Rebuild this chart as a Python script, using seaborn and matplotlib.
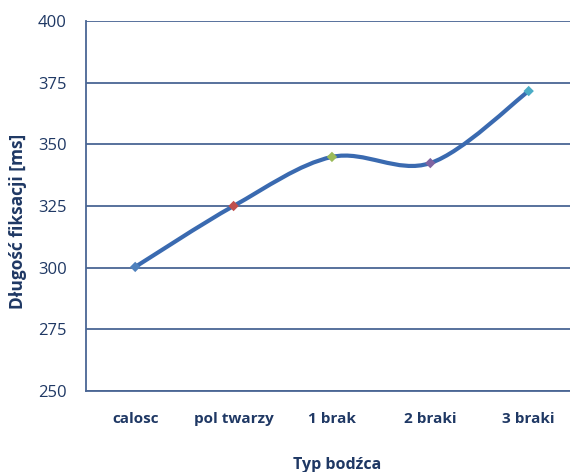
import numpy as np
import matplotlib
matplotlib.use("Agg")
import matplotlib.pyplot as plt
from matplotlib.path import Path
from matplotlib.patches import PathPatch
import seaborn as sns

# data
categories = ["calosc", "pol twarzy", "1 brak", "2 braki", "3 braki"]
fixation_ms = [300.3, 325.0, 344.9, 342.4, 371.6]
point_colors = ["#4F81BD", "#C0504D", "#9BBB59", "#8064A2", "#4BACC6"]
y_ticks = [250, 275, 300, 325, 350, 375, 400]

sns.set_style("white")
plt.rcParams["font.family"] = ["Open Sans", "DejaVu Sans"]

navy = "#1F3864"
grid_col = "#4A6694"
line_col = "#3A6AB0"

fig = plt.figure(figsize=(5.7, 4.72), dpi=100)
ax = fig.add_axes([0.1509, 0.1716, 0.8491, 0.7839])

xs = np.arange(len(categories), dtype=float)
ys = np.array(fixation_ms)

# smoothed line like the spreadsheet one: bezier segments through the points
pts = np.column_stack([xs, ys])
ext = np.vstack([pts[0], pts, pts[-1]])
verts = [pts[0]]
codes = [Path.MOVETO]
for i in range(len(pts) - 1):
    p0, p1, p2, p3 = ext[i], ext[i + 1], ext[i + 2], ext[i + 3]
    c1 = p1 + (p2 - p0) / 6.0
    c2 = p2 - (p3 - p1) / 6.0
    verts += [c1, c2, p2]
    codes += [Path.CURVE4] * 3
ax.add_patch(PathPatch(Path(verts, codes), facecolor="none", edgecolor=line_col,
                       lw=3, capstyle="round", zorder=3))

sns.scatterplot(x=xs, y=ys, hue=categories, palette=point_colors, marker="D",
                s=28, edgecolor="none", legend=False, ax=ax, zorder=4)

ax.set_xlim(-0.5, 4.42)
ax.set_ylim(250, 400)
ax.set_yticks(y_ticks)
ax.set_xticks(xs)
ax.set_xticklabels(categories, fontweight="bold", fontsize=11, color=navy)
ax.set_yticklabels([str(t) for t in y_ticks], fontsize=12, color=navy)
ax.tick_params(axis="both", length=0)
ax.tick_params(axis="x", pad=15)
ax.tick_params(axis="y", pad=14)
ax.yaxis.grid(True, color=grid_col, lw=1.3)
ax.set_axisbelow(True)

for side in ["top", "right"]:
    ax.spines[side].set_visible(False)
for side in ["left", "bottom"]:
    ax.spines[side].set_color(grid_col)
    ax.spines[side].set_linewidth(1.3)

ax.set_xlabel("Typ bodźca", fontweight="bold", fontsize=11.5, color=navy)
ax.set_ylabel("Długość fiksacji [ms]", fontweight="bold", fontsize=12.5, color=navy)
ax.xaxis.set_label_coords(0.519, -0.2)
ax.yaxis.set_label_coords(-0.14, 0.459)
ax.xaxis.label.set_va("center")
ax.yaxis.label.set_va("center")

fig.savefig("out.png", dpi=100)
